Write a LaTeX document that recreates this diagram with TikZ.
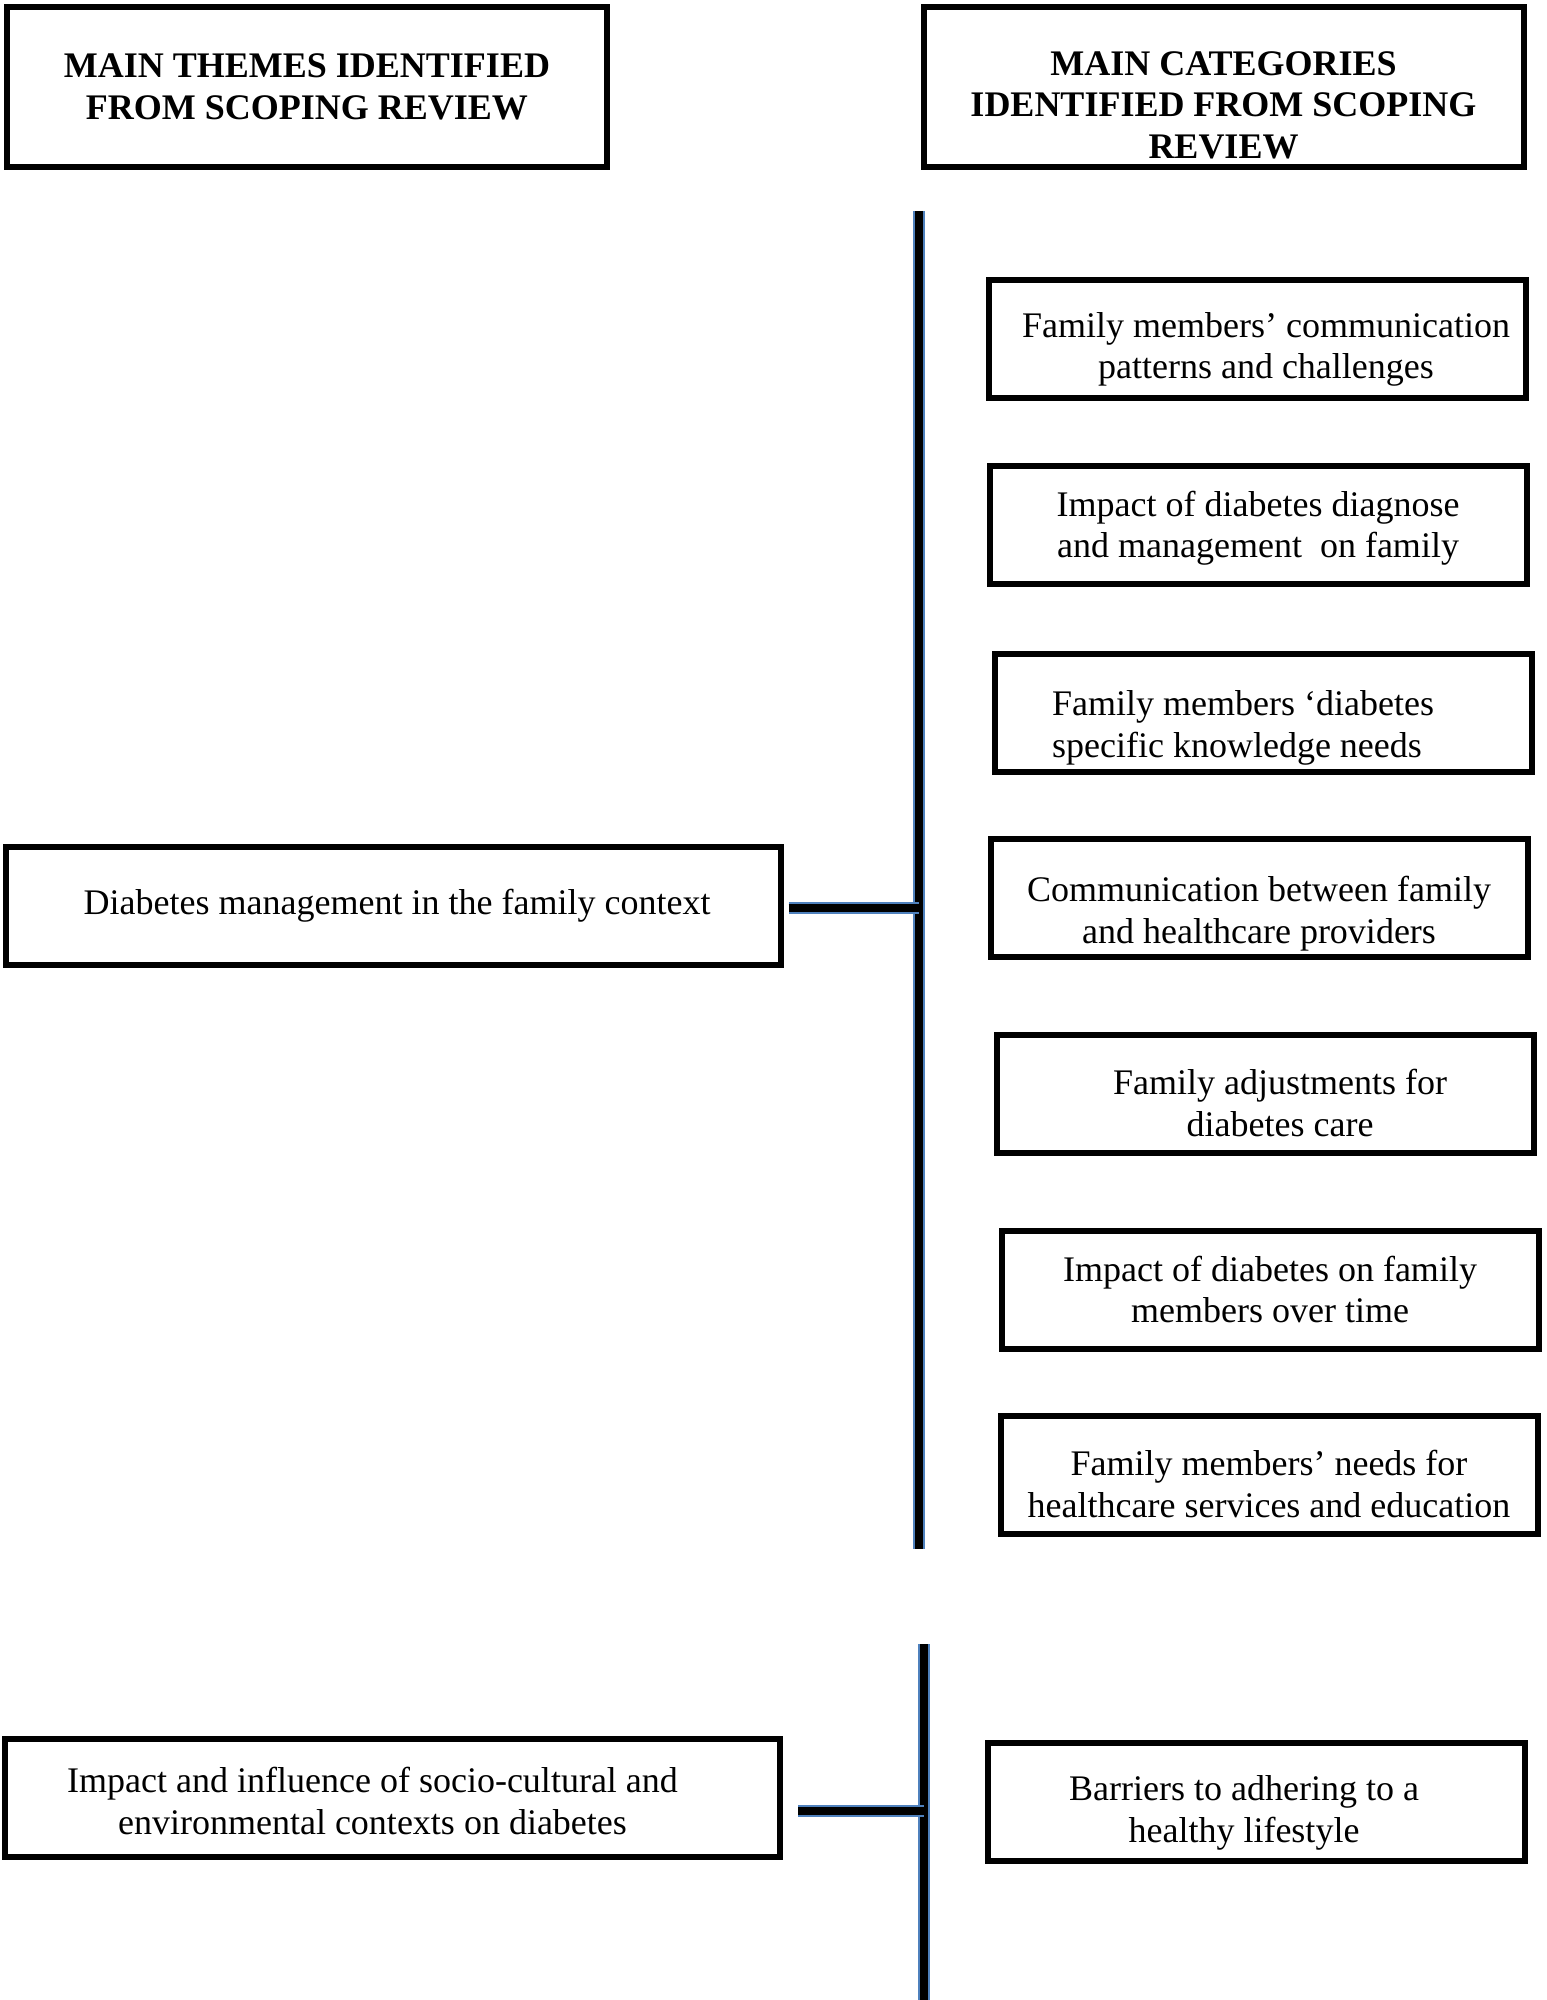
\documentclass[tikz,border=0pt]{standalone}
\usepackage{fontspec}
\setmainfont{Liberation Serif}
\definecolor{barblue}{RGB}{79,129,189}
\newcommand{\padtop}[1]{\rule{0pt}{#1}}
\tikzset{
	box/.style={draw, line width=3pt, align=center, inner sep=0pt, font=\fontsize{18}{20.75}\selectfont},
	headbox/.style={box, minimum width=300pt, minimum height=80pt, font=\fontsize{18}{20.75}\selectfont\bfseries},
	headtext/.style={align=center, inner sep=0pt, font=\fontsize{18}{20.75}\selectfont\bfseries},
	catbox/.style={box, minimum width=268.5pt, minimum height=59pt},
	themebox/.style={box, minimum width=387.5pt, minimum height=59pt},
	bar/.style={draw=barblue, line width=0.7pt, double=black, double distance=4.2pt},
}

\begin{document}
\begin{tikzpicture}[x=0.5pt,y=-0.5pt]
			%%%%% START %%%%%
			\useasboundingbox (0,0) rectangle (1546,2000);
			
			% headers
			\node[headbox] (hdThemes) at (307,87) {MAIN THEMES IDENTIFIED\\FROM SCOPING REVIEW};
			\node[headbox] (hdCats) at (1223.5,87) {};
			\node[headtext] (hdCatsText) at (1223.5,105) {MAIN CATEGORIES\\IDENTIFIED FROM SCOPING\\REVIEW};
			
			% categories
			\node[catbox] (cat1) at (1257,339) {\padtop{23pt}\hspace*{9pt}Family members’ communication\\\hspace*{9pt}patterns and challenges};
			\node[catbox] (cat2) at (1258,525) {\padtop{16pt}Impact of diabetes diagnose\\and management\ \ on family};
			\node[catbox, align=left] (cat3) at (1263,713) {\padtop{27.5pt}Family members ‘diabetes\hspace*{20pt}\\specific knowledge needs};
			\node[catbox] (cat4) at (1259,897.5) {\padtop{29pt}Communication between family\\and healthcare providers};
			\node[catbox] (cat5) at (1265,1094) {\padtop{21.5pt}\hspace*{15pt}Family adjustments for\\\hspace*{15pt}diabetes care};
			\node[catbox] (cat6) at (1270,1289.5) {Impact of diabetes on family\\members over time};
			\node[catbox] (cat7) at (1269,1475) {\padtop{21.5pt}Family members’ needs for\\healthcare services and education};
			\node[catbox] (barrier) at (1256,1802) {\padtop{23.5pt}Barriers to adhering to a\hspace*{12pt}\\healthy lifestyle\hspace*{12pt}};
			
			% themes
			\node[themebox] (themeA) at (393,906) {\hspace*{4pt}Diabetes management in the family context};
			\node[themebox] (themeB) at (392.5,1797.5) {\padtop{16pt}Impact and influence of socio-cultural and\hspace*{20pt}\\environmental contexts on diabetes\hspace*{20pt}};
			
			% bars
			\coordinate (bar1top) at (919,211);
			\coordinate (bar1bot) at (919,1549);
			\coordinate (bar2top) at (924,1644);
			\coordinate (bar2bot) at (924,2000);
			
			\draw[bar] (bar1top) -- (bar1bot);
			\draw[bar, shorten <=2.5pt] ([yshift=-1pt]themeA.east) -- ([yshift=-1pt]themeA.east -| bar1top);
			
			\draw[bar] (bar2top) -- (bar2bot);
			\draw[bar, shorten <=7.5pt] ([yshift=-6.75pt]themeB.east) -- ([yshift=-6.75pt]themeB.east -| bar2top);
			
			%%%%% END %%%%%
\end{tikzpicture}
\end{document}
